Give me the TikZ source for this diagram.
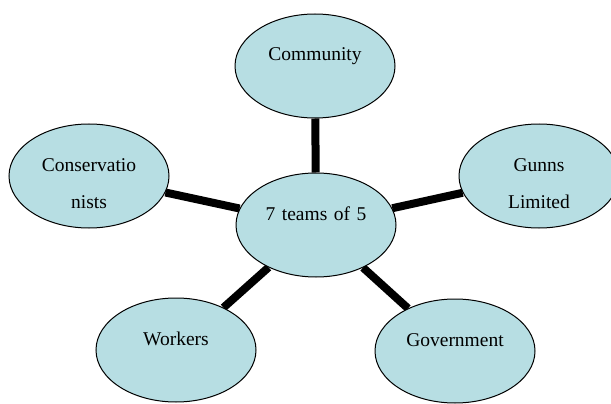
\documentclass[tikz,border=0pt]{standalone}
\usepackage{fontspec}
\setmainfont{Liberation Serif}
\usepackage{xcolor}
\usetikzlibrary{shapes.geometric,backgrounds}
\definecolor{bubblefill}{RGB}{183,222,227}
\begin{document}
\begin{tikzpicture}[x=1pt,y=-1pt]
 \tikzset{bubble/.style={ellipse, draw, line width=1pt, fill=bubblefill, minimum width=160pt, minimum height=104pt, inner sep=0pt, text width=110pt, align=center, text height=14pt, text depth=24pt, font=\fontsize{19.5}{38}\selectfont}};
 \tikzset{spoke/.style={line width=8pt}};
  \useasboundingbox (0,0) rectangle (611,404);
  \node[bubble] (teams) at (316,225) {7 teams of 5};
  \node[bubble] (community) at (315,66) {Community};
  \node[bubble] (conserv) at (89,176) {Conservatio\\nists};
  \node[bubble] (gunns) at (539,176) {Gunns\\Limited};
  \node[bubble] (workers) at (176,350) {Workers};
  \node[bubble] (govt) at (455,351) {Government};
  \begin{pgfonlayer}{background}
  \draw[spoke] (teams) -- (community);
  \draw[spoke] (teams) -- (conserv);
  \draw[spoke] (teams) -- (gunns);
  \draw[spoke] (teams) -- (workers);
  \draw[spoke] (teams) -- (govt);
  \end{pgfonlayer}
\end{tikzpicture}
\end{document}
